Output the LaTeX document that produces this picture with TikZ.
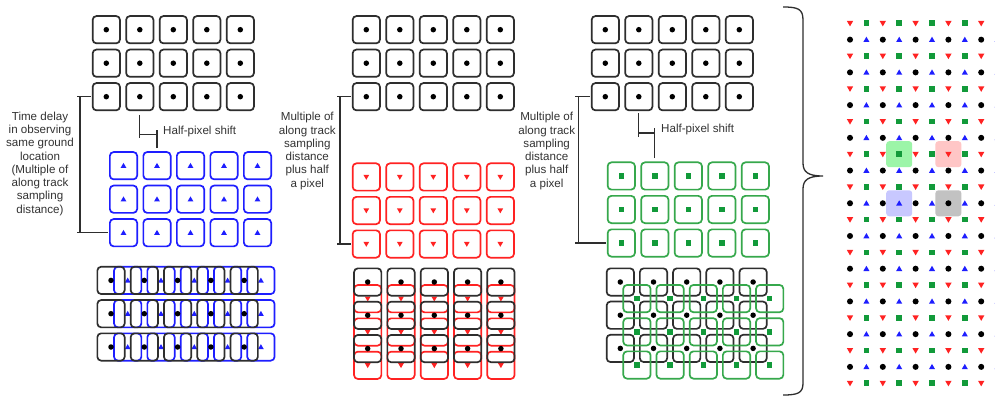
\documentclass[tikz,border=0pt]{standalone}
\usepackage{fontspec}
\setmainfont{Liberation Sans}
\definecolor{kline}{HTML}{2E2E2E}
\definecolor{bline}{HTML}{1E1EFF}
\definecolor{rline}{HTML}{FF2222}
\definecolor{gline}{HTML}{36A84C}
\definecolor{gfill}{HTML}{129A3A}
\definecolor{txt}{HTML}{333333}
\definecolor{hlg}{HTML}{9CF5A8}
\definecolor{hlr}{HTML}{FFC6C6}
\definecolor{hlb}{HTML}{C8C8FF}
\definecolor{hlk}{HTML}{C2C2C2}
\tikzset{
  pixbox/.style={draw, rounded corners=3.8pt, line width=1.7pt, minimum width=27.3pt, minimum height=27.3pt, inner sep=0pt, outer sep=0pt},
  kbox/.style={pixbox, draw=kline},
  bbox/.style={pixbox, draw=bline},
  rbox/.style={pixbox, draw=rline},
  gbox/.style={pixbox, draw=gline},
  dimline/.style={draw=kline, line width=1.2pt},
  lbl/.style={font=\fontsize{11.6}{13.3}\selectfont, align=center, inner sep=0pt, text=txt},
  hlbox/.style={rounded corners=3pt, minimum width=26pt, minimum height=26pt, inner sep=0pt, draw=none},
  kdot/.pic={\fill[black] (0,0) circle[radius=2.75];},
  btri/.pic={\fill[bline] (-2.9,2.2) -- (2.9,2.2) -- (0,-2.8) -- cycle;},
  rtri/.pic={\fill[rline] (-2.9,-2.2) -- (2.9,-2.2) -- (0,2.8) -- cycle;},
  gsq/.pic={\fill[gfill] (-2.7,-2.7) rectangle (2.7,2.7);},
}
\newcommand{\pixgrid}[6]{%
  \foreach \i in {0,...,4}{\foreach \j in {0,...,2}{%
    \node[#2] (#1-\i-\j) at ({#4+#6*\i},{#5+#6*\j}) {};
    \pic at (#1-\i-\j.center) {#3};
  }}}
\begin{document}
\begin{tikzpicture}[x=1pt,y=-1pt]
\useasboundingbox (0,0) rectangle (995,398);
\fill[white] (0,0) rectangle (995,398);

% ---------- left panel ----------
\pixgrid{LK}{kbox}{kdot}{106.3}{29.7}{33.5}
\pixgrid{LB}{bbox}{btri}{123.5}{165.7}{33.5}
\coordinate (Ltop) at ([xshift=-12.6pt]LK-0-2.west);
\coordinate (Lbot) at (Ltop |- LB-0-2.west);
\draw[dimline] (Ltop) -- (Lbot);
\draw[dimline] ([xshift=-3pt]Ltop) -- ([xshift=-1.5pt]LK-0-2.west);
\draw[dimline] ([xshift=-3pt]Lbot) -- ([xshift=-1.5pt]LB-0-2.west);
\node[lbl] (Ltxt) at (40,163.7) {Time delay\\in observing\\same ground\\location\\(Multiple of\\along track\\sampling\\distance)};
\coordinate (hsL1) at ([yshift=-4.5pt]LK-1-2.south);
\coordinate (hsL2) at ([yshift=4pt]LB-1-0.north);
\coordinate (hsLm) at ([yshift=-19.4pt]hsL1);
\draw[dimline] (hsL1) -- ++(0,23);
\draw[dimline] (hsL2) -- ++(0,-18);
\draw[dimline] (hsLm) -- (hsLm -| hsL2);
\node[lbl, anchor=west] (hsLt) at (163,131.7) {Half-pixel shift};

% ---------- middle panel ----------
\pixgrid{MK}{kbox}{kdot}{366.3}{29.7}{33.5}
\pixgrid{MR}{rbox}{rtri}{366.3}{177}{33.5}
\coordinate (Mtop) at ([xshift=-12.65pt]MK-0-2.west);
\coordinate (Mbot) at (Mtop |- MR-0-2.west);
\draw[dimline] (Mtop) -- (Mbot);
\draw[dimline] ([xshift=-3pt]Mtop) -- ([xshift=-1.5pt]MK-0-2.west);
\draw[dimline] ([xshift=-3pt]Mbot) -- ([xshift=-1.5pt]MR-0-2.west);
\node[lbl] (Mtxt) at (307.3,151) {Multiple of\\along track\\sampling\\distance\\plus half\\a pixel};

% ---------- right panel ----------
\pixgrid{RK}{kbox}{kdot}{605.3}{29.7}{33.5}
\pixgrid{RG}{gbox}{gsq}{621.3}{176}{33.5}
\coordinate (Rtop) at ([xshift=-13.3pt]RK-0-2.west);
\coordinate (Rbot) at (Rtop |- RG-0-2.west);
\draw[dimline] (Rtop) -- (Rbot);
\draw[dimline] ([xshift=-3pt]Rtop) -- ([xshift=-1.5pt]RK-0-2.west);
\draw[dimline] ([xshift=-3pt]Rbot) -- ([xshift=-1.5pt]RG-0-2.west);
\node[lbl] (Rtxt) at (546.7,151) {Multiple of\\along track\\sampling\\distance\\plus half\\a pixel};
\coordinate (hsR1) at ([yshift=-3pt]RK-1-2.south);
\coordinate (hsR2) at ([yshift=4.3pt]RG-1-0.north);
\coordinate (hsRm) at ([yshift=-19.7pt]hsR1);
\draw[dimline] (hsR1) -- ++(0,24);
\draw[dimline] (hsR2) -- ++(0,-30);
\draw[dimline] (hsRm) -- (hsRm -| hsR2);
\node[lbl, anchor=west] (hsRt) at (661,130) {Half-pixel shift};

% ---------- combined grids ----------
\pixgrid{LB2}{bbox}{btri}{127.7}{280.4}{33.3}
\pixgrid{LK2}{kbox}{kdot}{111}{280.4}{33.3}
\pixgrid{MR2}{rbox}{rtri}{367.7}{298.7}{33.3}
\pixgrid{MK2}{kbox}{kdot}{367.7}{282}{33.3}
\pixgrid{RK2}{kbox}{kdot}{620.3}{282}{33.2}
\pixgrid{RG2}{gbox}{gsq}{636.9}{298.6}{33.2}

% ---------- brace ----------
\draw[line width=1.3pt, kline] (783,7) .. controls (798,7) and (803,9) .. (803,20)
  -- (803,163) .. controls (803,172) and (808,176) .. (823,176)
  .. controls (808,176) and (803,180) .. (803,189)
  -- (803,383) .. controls (803,393) and (798,395) .. (783,395);

% ---------- interleaved pattern ----------
\begin{scope}
\clip (840,0) rectangle (995,398);
\node[hlbox, fill=hlg] (HG) at (899.2,154.2) {};
\node[hlbox, fill=hlr] (HR) at (948.4,154.2) {};
\node[hlbox, fill=hlb] (HB) at (899.2,203.3) {};
\node[hlbox, fill=hlk] (HK) at (948.4,203.3) {};
\foreach \r in {0,...,22}{\foreach \k in {0,...,9}{%
  \pgfmathtruncatemacro{\sel}{2*mod(\r,2)+mod(\k,2)}%
  \ifcase\sel
    \pic[scale=1.1] at ({850+16.4*\k},{23.3+16.36*\r}) {rtri};
  \or
    \pic[scale=1.05] at ({850+16.4*\k},{23.3+16.36*\r}) {gsq};
  \or
    \pic[scale=1.1] at ({850+16.4*\k},{23.3+16.36*\r}) {kdot};
  \or
    \pic[scale=1.05] at ({850+16.4*\k},{23.3+16.36*\r}) {btri};
  \fi
}}
\end{scope}
\end{tikzpicture}
\end{document}
